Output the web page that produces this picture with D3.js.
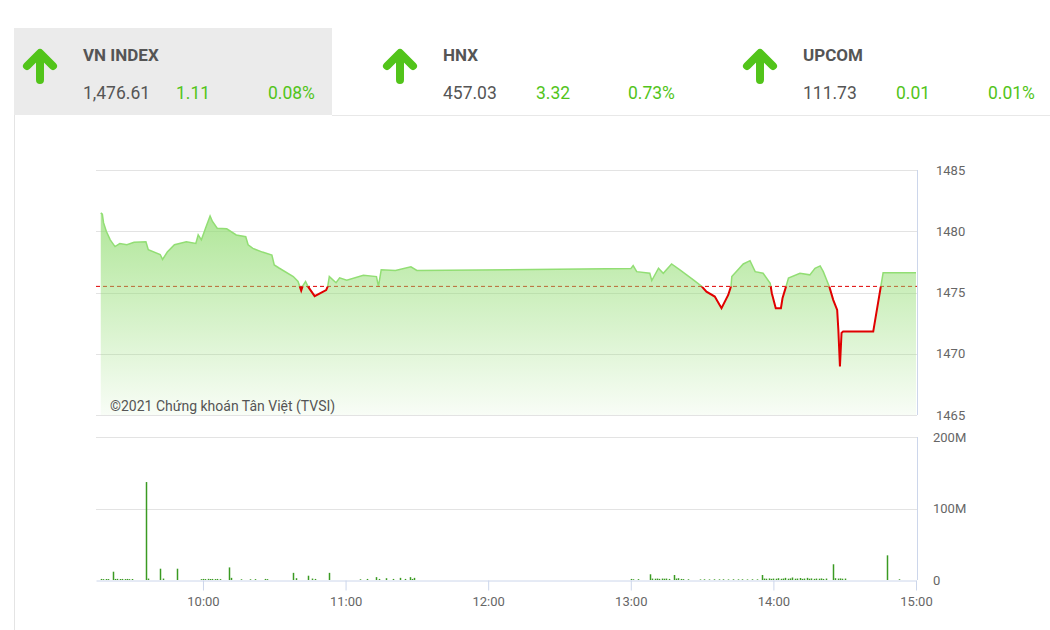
<!DOCTYPE html>
<html>
<head>
<meta charset="utf-8">
<script src="https://cdn.jsdelivr.net/npm/d3@7"></script>
<style>
  body { margin: 0; background: #fff; font-family: Roboto, "Noto Sans", sans-serif; }
  .axisText { fill: #666; font-size: 13px; }
  .grid line { stroke: #e3e3e3; }
</style>
</head>
<body>
<svg id="svgChart"></svg>
<script>

/// DATA ////////////////////////////////////////////////////////////////////////////////

var indexNames   = ['VN INDEX', 'HNX', 'UPCOM'];
var indexValues  = ['1,476.61', '457.03', '111.73'];
var indexChanges = ['1.11', '3.32', '0.01'];
var indexPcts    = ['0.08%', '0.73%', '0.01%'];

var refPrice = 1475.50;

// intraday VN-Index, [time, points]
var priceData = [
    ['09:17:00', 1481.5], ['09:17:40', 1481.4], ['09:18:10', 1480.7], ['09:19:20', 1480.0],
    ['09:21:00', 1479.3], ['09:23:00', 1478.75], ['09:25:00', 1479.0], ['09:28:00', 1478.9],
    ['09:31:00', 1479.1], ['09:36:00', 1479.15], ['09:37:00', 1478.5], ['09:42:00', 1478.1],
    ['09:43:00', 1477.7], ['09:45:00', 1478.3], ['09:48:00', 1478.9], ['09:53:00', 1479.15],
    ['09:57:00', 1479.0], ['09:58:00', 1479.7], ['09:59:20', 1479.3], ['10:01:00', 1480.2],
    ['10:03:00', 1481.25], ['10:04:00', 1480.8], ['10:06:00', 1480.25], ['10:10:00', 1480.2],
    ['10:14:00', 1479.7], ['10:18:00', 1479.55], ['10:19:00', 1478.9], ['10:21:00', 1478.6],
    ['10:25:00', 1478.3], ['10:29:00', 1478.05], ['10:30:00', 1477.25], ['10:32:00', 1477.0],
    ['10:38:00', 1476.3], ['10:40:00', 1475.9], ['10:41:20', 1475.15], ['10:42:00', 1475.55],
    ['10:43:10', 1475.9], ['10:44:10', 1475.5], ['10:47:00', 1474.7], ['10:51:50', 1475.2],
    ['10:52:30', 1475.5], ['10:53:10', 1476.3], ['10:56:00', 1475.8], ['10:57:30', 1476.2],
    ['11:00:30', 1476.0], ['11:07:30', 1476.4], ['11:13:00', 1476.3], ['11:13:50', 1475.5],
    ['11:15:00', 1476.85], ['11:21:00', 1476.8], ['11:27:30', 1477.1], ['11:30:00', 1476.8],
    ['13:00:00', 1476.95], ['13:01:00', 1477.2], ['13:02:30', 1476.7], ['13:08:00', 1476.57],
    ['13:08:50', 1475.97], ['13:11:40', 1476.98], ['13:13:40', 1476.57], ['13:17:10', 1477.33],
    ['13:20:40', 1476.84], ['13:23:30', 1476.44], ['13:26:20', 1476.03], ['13:29:50', 1475.5],
    ['13:31:50', 1475.07], ['13:35:20', 1474.67], ['13:38:10', 1473.72], ['13:41:00', 1474.8],
    ['13:42:10', 1475.5], ['13:42:30', 1476.3], ['13:47:20', 1477.33], ['13:50:10', 1477.6],
    ['13:52:20', 1476.7], ['13:55:40', 1476.57], ['13:58:40', 1475.76], ['13:59:20', 1474.94],
    ['14:01:00', 1473.72], ['14:03:10', 1473.72], ['14:03:50', 1474.53], ['14:05:20', 1475.5],
    ['14:06:20', 1476.17], ['14:11:10', 1476.57], ['14:15:20', 1476.44], ['14:17:30', 1476.98],
    ['14:19:40', 1477.17], ['14:21:00', 1476.7], ['14:23:30', 1475.5], ['14:25:10', 1474.4],
    ['14:26:50', 1473.58], ['14:27:20', 1471.95], ['14:28:00', 1468.96], ['14:28:40', 1471.7],
    ['14:29:20', 1471.81], ['14:42:00', 1471.81], ['14:46:10', 1476.61], ['15:00:00', 1476.61]
];

// matched volume, [time, millions of shares]
var volumeData = [
    ['09:17', 1.5], ['09:18', 1.2], ['09:19', 1.4], ['09:20', 1.3], ['09:22', 11.6], ['09:23', 1.5],
    ['09:24', 1.6], ['09:25', 1.4], ['09:26', 1.5], ['09:27', 1.3], ['09:28', 1.5], ['09:29', 1.2],
    ['09:30', 1.4], ['09:36', 137], ['09:37', 2.0], ['09:42', 15.8], ['09:43', 2.0], ['09:49', 15.8],
    ['09:59', 1.2], ['10:00', 1.5], ['10:01', 1.3], ['10:02', 1.6], ['10:03', 1.4], ['10:04', 1.5],
    ['10:05', 1.3], ['10:06', 1.5], ['10:07', 1.2], ['10:11', 17.6], ['10:12', 3.0], ['10:16', 1.0],
    ['10:20', 1.0], ['10:22', 1.2], ['10:26', 1.5], ['10:27', 1.2], ['10:38', 10], ['10:39', 2.5],
    ['10:44', 6], ['10:46', 2.0], ['10:47', 1.5], ['10:53', 10], ['11:06', 1.0], ['11:09', 1.5],
    ['11:13', 4.0], ['11:14', 1.5], ['11:17', 2.5], ['11:20', 1.5], ['11:23', 3.0], ['11:25', 1.5],
    ['11:27', 4.0], ['11:28', 1.5], ['11:29', 3.0],
    ['13:00', 1.5], ['13:01', 1.0], ['13:03', 1.2], ['13:08', 8], ['13:09', 2.0], ['13:10', 1.8],
    ['13:11', 2.0], ['13:12', 1.6], ['13:13', 2.0], ['13:14', 1.8], ['13:15', 2.0], ['13:16', 1.5],
    ['13:18', 7], ['13:19', 2.0], ['13:20', 2.5], ['13:21', 1.5], ['13:22', 1.2], ['13:24', 1.0],
    ['13:29', 0.8], ['13:31', 1.0], ['13:33', 0.8], ['13:35', 1.0], ['13:37', 0.9], ['13:39', 1.0],
    ['13:41', 0.8], ['13:43', 1.0], ['13:45', 0.9], ['13:47', 1.0], ['13:49', 0.8], ['13:51', 1.0],
    ['13:53', 0.9], ['13:55', 7], ['13:56', 2.0], ['13:57', 1.8], ['13:58', 2.2], ['13:59', 1.6],
    ['14:00', 2.0], ['14:01', 1.8], ['14:02', 2.5], ['14:03', 1.7], ['14:04', 2.0], ['14:05', 3.0],
    ['14:06', 1.8], ['14:07', 2.2], ['14:08', 3.5], ['14:09', 1.8], ['14:10', 2.0], ['14:11', 2.8],
    ['14:12', 1.6], ['14:13', 2.0], ['14:14', 3.0], ['14:15', 1.8], ['14:16', 2.2], ['14:17', 1.6],
    ['14:18', 2.0], ['14:19', 1.8], ['14:20', 2.2], ['14:21', 1.5], ['14:22', 2.0], ['14:25', 22],
    ['14:26', 2.5], ['14:27', 2.0], ['14:28', 2.2], ['14:29', 1.8], ['14:30', 2.0],
    ['14:48', 34.5], ['14:53', 1.0]
];

var priceTicks  = [1465, 1470, 1475, 1480, 1485];
var volumeTicks = [0, 100, 200];
var timeTicks   = ['10:00', '11:00', '12:00', '13:00', '14:00', '15:00'];

/// SETUP ///////////////////////////////////////////////////////////////////////////////

var WIDTH = 1050, HEIGHT = 630;
var PLOT_LEFT = 96, PLOT_RIGHT = 917;
var PRICE_TOP = 170, PRICE_BOTTOM = 415;
var VOL_TOP = 437, VOL_BOTTOM = 580;
var GREEN = '#52c41a';

var parseSec = d3.timeParse('%H:%M:%S');
var parseMin = d3.timeParse('%H:%M');

var prices = priceData.map(function (d) { return { t: parseSec(d[0]), v: d[1] }; });
var volumes = volumeData.map(function (d) { return { t: parseMin(d[0]), v: d[1] }; });

var svg = d3.select('#svgChart')
    .attr('width', WIDTH)
    .attr('height', HEIGHT);

var x = d3.scaleTime()
    .domain([parseMin('09:15'), parseMin('15:00')])
    .range([PLOT_LEFT, PLOT_RIGHT - 1]);

var yPrice = d3.scaleLinear().domain([1465, 1485]).range([PRICE_BOTTOM, PRICE_TOP]);
var yVol = d3.scaleLinear().domain([0, 200]).range([VOL_BOTTOM, VOL_TOP]);

/////////////////////////////////////////////////////////////////////////////////////////

function drawHeader() {
    // grey box behind the selected index + frame lines
    svg.append('rect')
        .attr('x', 14).attr('y', 28).attr('width', 318).attr('height', 87)
        .attr('fill', '#ebebeb');
    svg.append('line')
        .attr('x1', 332).attr('x2', WIDTH).attr('y1', 115.5).attr('y2', 115.5)
        .attr('stroke', '#e8e8e8');
    svg.append('line')
        .attr('x1', 14.5).attr('x2', 14.5).attr('y1', 115).attr('y2', HEIGHT)
        .attr('stroke', '#e4e4e4');

    var boxes = svg.selectAll('.idx')
        .data(indexNames)
        .enter()
        .append('g')
            .attr('class', 'idx')
            .attr('transform', function (d, i) { return 'translate(' + (i * 360) + ',0)'; });

    // up arrow
    boxes.append('path')
        .attr('d', 'M40,80 L40,55 M27,66 L40,53 L53,66')
        .attr('fill', 'none')
        .attr('stroke', GREEN)
        .attr('stroke-width', 8)
        .attr('stroke-linecap', 'round')
        .attr('stroke-linejoin', 'round');

    boxes.append('text')
        .attr('x', 83).attr('y', 61)
        .attr('fill', '#555')
        .style('font-size', '17px')
        .style('font-weight', 'bold')
        .text(function (d) { return d; });

    boxes.append('text')
        .attr('x', 83).attr('y', 99)
        .attr('fill', '#555')
        .style('font-size', '17.5px')
        .text(function (d, i) { return indexValues[i]; });

    boxes.append('text')
        .attr('x', 176).attr('y', 99)
        .attr('fill', GREEN)
        .style('font-size', '17.5px')
        .text(function (d, i) { return indexChanges[i]; });

    boxes.append('text')
        .attr('x', 268).attr('y', 99)
        .attr('fill', GREEN)
        .style('font-size', '17.5px')
        .text(function (d, i) { return indexPcts[i]; });
}

function drawPriceChart() {
    var defs = svg.append('defs');

    var grad = defs.append('linearGradient')
        .attr('id', 'areaGrad')
        .attr('gradientUnits', 'userSpaceOnUse')
        .attr('x1', 0).attr('x2', 0)
        .attr('y1', PRICE_TOP).attr('y2', PRICE_BOTTOM);
    grad.append('stop').attr('offset', '0%').attr('stop-color', '#8fdc6e').attr('stop-opacity', 0.85);
    grad.append('stop').attr('offset', '100%').attr('stop-color', '#8fdc6e').attr('stop-opacity', 0.06);

    var yRef = yPrice(refPrice);
    defs.append('clipPath').attr('id', 'clipUp')
        .append('rect').attr('x', 0).attr('y', 0).attr('width', WIDTH).attr('height', yRef);
    defs.append('clipPath').attr('id', 'clipDown')
        .append('rect').attr('x', 0).attr('y', yRef).attr('width', WIDTH).attr('height', HEIGHT);

    // gridlines
    svg.append('g')
        .attr('class', 'grid')
        .selectAll('line')
        .data(priceTicks)
        .enter()
        .append('line')
            .attr('x1', PLOT_LEFT).attr('x2', PLOT_RIGHT)
            .attr('y1', function (d) { return Math.round(yPrice(d)) + 0.5; })
            .attr('y2', function (d) { return Math.round(yPrice(d)) + 0.5; });

    svg.append('line')
        .attr('x1', PLOT_RIGHT + 0.5).attr('x2', PLOT_RIGHT + 0.5)
        .attr('y1', PRICE_TOP).attr('y2', PRICE_BOTTOM)
        .attr('stroke', '#ccd6eb');

    // reference (previous close), sits under the area
    svg.append('line')
        .attr('x1', PLOT_LEFT).attr('x2', PLOT_RIGHT)
        .attr('y1', yRef).attr('y2', yRef)
        .attr('stroke', '#e00000')
        .attr('stroke-width', 1)
        .attr('stroke-dasharray', '4,3');

    var area = d3.area()
        .x(function (d) { return x(d.t); })
        .y0(PRICE_BOTTOM)
        .y1(function (d) { return yPrice(d.v); });

    svg.append('path')
        .datum(prices)
        .attr('d', area)
        .attr('fill', 'url(#areaGrad)');

    var line = d3.line()
        .x(function (d) { return x(d.t); })
        .y(function (d) { return yPrice(d.v); });

    svg.append('path')
        .datum(prices)
        .attr('d', line)
        .attr('clip-path', 'url(#clipUp)')
        .attr('fill', 'none')
        .attr('stroke', '#92de74')
        .attr('stroke-width', 1.5);

    svg.append('path')
        .datum(prices)
        .attr('d', line)
        .attr('clip-path', 'url(#clipDown)')
        .attr('fill', 'none')
        .attr('stroke', '#e00000')
        .attr('stroke-width', 2);

    // Y labels (right side)
    svg.append('g')
        .selectAll('text')
        .data(priceTicks)
        .enter()
        .append('text')
            .attr('class', 'axisText')
            .attr('x', 936)
            .attr('y', function (d) { return yPrice(d); })
            .attr('dy', '0.35em')
            .text(function (d) { return d; });

    svg.append('text')
        .attr('x', 110).attr('y', 411)
        .attr('fill', '#555')
        .style('font-size', '14px')
        .text('©2021 Chứng khoán Tân Việt (TVSI)');
}

function drawVolumeChart() {
    svg.append('g')
        .attr('class', 'grid')
        .selectAll('line')
        .data(volumeTicks.slice(1))
        .enter()
        .append('line')
            .attr('x1', PLOT_LEFT).attr('x2', PLOT_RIGHT)
            .attr('y1', function (d) { return Math.round(yVol(d)) + 0.5; })
            .attr('y2', function (d) { return Math.round(yVol(d)) + 0.5; });

    svg.append('line')
        .attr('x1', PLOT_RIGHT + 0.5).attr('x2', PLOT_RIGHT + 0.5)
        .attr('y1', VOL_TOP).attr('y2', VOL_BOTTOM)
        .attr('stroke', '#ccd6eb');

    // X-axis
    var xAxis = svg.append('g')
        .attr('transform', 'translate(0,' + (VOL_BOTTOM + 0.5) + ')')
        .call(d3.axisBottom(x)
            .tickValues(timeTicks.map(parseMin))
            .tickSize(10)
            .tickSizeOuter(0)
            .tickPadding(6)
            .tickFormat(d3.timeFormat('%H:%M')));
    xAxis.select('.domain').attr('stroke', '#ccd6eb');
    xAxis.selectAll('.tick line').attr('stroke', '#ccd6eb');
    xAxis.selectAll('.tick text')
        .attr('class', 'axisText')
        .attr('fill', null)
        .style('font-family', 'Roboto, sans-serif');

    // bars
    svg.append('g')
        .selectAll('line')
        .data(volumes)
        .enter()
        .append('line')
            .attr('x1', function (d) { return Math.round(x(d.t)) + 0.5; })
            .attr('x2', function (d) { return Math.round(x(d.t)) + 0.5; })
            .attr('y1', VOL_BOTTOM)
            .attr('y2', function (d) { return yVol(d.v); })
            .attr('stroke', '#3a9a22')
            .attr('stroke-width', 1.5);

    svg.append('g')
        .selectAll('text')
        .data(volumeTicks)
        .enter()
        .append('text')
            .attr('class', 'axisText')
            .attr('x', 933)
            .attr('y', function (d) { return yVol(d); })
            .attr('dy', '0.35em')
            .text(function (d) { return d === 0 ? '0' : d + 'M'; });
}

drawHeader();
drawPriceChart();
drawVolumeChart();

</script>
</body>
</html>
